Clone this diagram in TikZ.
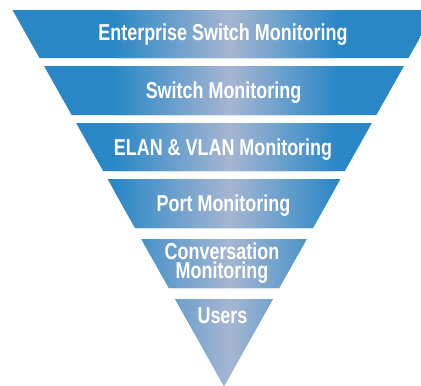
\documentclass[tikz,border=0pt]{standalone}
\usepackage{fontspec}
\newfontfamily\bandfont{Liberation Sans Bold}[FakeStretch=0.78]
\definecolor{bandblue}{RGB}{42,135,198}
\definecolor{bandlight}{RGB}{166,182,210}
\tikzset{
  bandlabel/.style={anchor=base, text=white, inner sep=0pt, font=\bandfont\fontsize{23}{19}\selectfont, align=center}
}
\begin{document}
\begin{tikzpicture}[x=1pt,y=-1pt]
\useasboundingbox (0,0) rectangle (421,386);
\begin{scope}
  \clip (12.5,10) -- (435.5,10) -- (408.5,58) -- (39.5,58) -- cycle
        (44,66) -- (404,66) -- (376.4,115) -- (71.6,115) -- cycle
        (76.1,123) -- (371.9,123) -- (344.9,171) -- (103.1,171) -- cycle
        (107.6,179) -- (340.4,179) -- (312.9,228) -- (135.1,228) -- cycle
        (141.3,239) -- (306.7,239) -- (279.1,288) -- (168.9,288) -- cycle
        (175.1,299) -- (272.9,299) -- (224,386) -- cycle;
  \fill[bandblue] (0,0) rectangle (440,390);
  \shade[left color=bandblue, right color=bandlight] (114,0) rectangle (230,390);
  \shade[left color=bandlight, right color=bandblue] (230,0) rectangle (336,390);
\end{scope}
\node[bandlabel] (l1) at (223,40) {Enterprise Switch Monitoring};
\node[bandlabel] (l2) at (223.5,98.5) {Switch Monitoring};
\node[bandlabel] (l3) at (223,155) {ELAN \& VLAN Monitoring};
\node[bandlabel] (l4) at (223.5,211) {Port Monitoring};
\node[bandlabel, anchor=center] (l5) at (222,263) {Conversation\\Monitoring};
\node[bandlabel] (l6) at (222.5,323) {Users};
\end{tikzpicture}
\end{document}
